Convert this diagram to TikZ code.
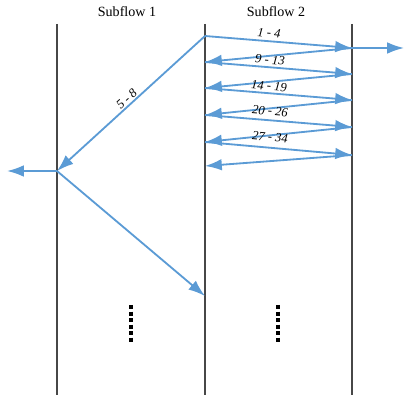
\documentclass[tikz,border=0pt]{standalone}
\usepackage{fontspec}
\setmainfont{Liberation Serif}
\usetikzlibrary{arrows.meta}
\definecolor{flowblue}{RGB}{91,155,213}

\begin{document}
\begin{tikzpicture}[x=0.025cm,y=-0.025cm,
  flow/.style={draw=flowblue,line width=1.3pt,-{Latex[length=4.2mm,width=2.9mm]}},
  pathline/.style={draw=black!72,line width=1.5pt},
  seglabel/.style={font=\itshape\small,inner sep=1pt},
  more/.style={line width=2.2pt,dash pattern=on 2.9pt off 1.75pt}]

\useasboundingbox (0,0) rectangle (406,398);

% the three paths
\draw[pathline] (57,24) -- (57,395);
\draw[pathline] (205,24) -- (205,395);
\draw[pathline] (352,24) -- (352,395);

\node (sub1) at (127,12) {Subflow 1};
\node (sub2) at (276,12) {Subflow 2};

% points on the paths
\coordinate (a0) at (57,171);
\coordinate (aout) at (7,171);
\coordinate (b0) at (205,36);
\coordinate (b1) at (205,62);
\coordinate (b2) at (205,88);
\coordinate (b3) at (205,115);
\coordinate (b4) at (205,142);
\coordinate (b5) at (205,166);
\coordinate (blow) at (205,296);
\coordinate (c0) at (352,48);
\coordinate (c1) at (352,74);
\coordinate (c2) at (352,100);
\coordinate (c3) at (352,127);
\coordinate (c4) at (352,155);
\coordinate (cout) at (404,48);

% subflow 2 zig-zag
\draw[flow] (b0) -- (c0);
\draw[flow] (c0) -- (cout);
\draw[flow] (c0) -- (b1);
\draw[flow] (b1) -- (c1);
\draw[flow] (c1) -- (b2);
\draw[flow] (b2) -- (c2);
\draw[flow] (c2) -- (b3);
\draw[flow] (b3) -- (c3);
\draw[flow] (c3) -- (b4);
\draw[flow] (b4) -- (c4);
\draw[flow] (c4) -- (b5);

% subflow 1
\draw[flow] (b0) -- (a0) node[pos=0.5,above,sloped,seglabel] (l0) {5 - 8};
\draw[flow] (a0) -- (aout);
\draw[flow] (a0) -- (blow);

\node[seglabel,rotate=-5] (l1) at (269,33) {1 - 4};
\node[seglabel,rotate=-5] (l2) at (270,60) {9 - 13};
\node[seglabel,rotate=-5] (l3) at (269,86) {14 - 19};
\node[seglabel,rotate=-5] (l4) at (270,111) {20 - 26};
\node[seglabel,rotate=-5] (l5) at (270,137) {27 - 34};

\draw[more] (131,305) -- (131,342);
\draw[more] (278,305) -- (278,342);

\end{tikzpicture}
\end{document}
